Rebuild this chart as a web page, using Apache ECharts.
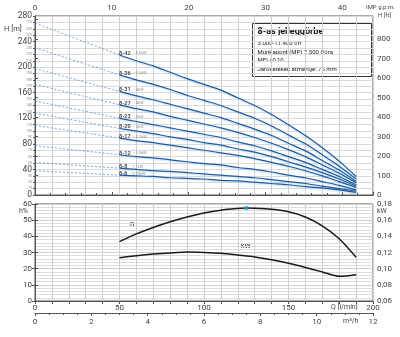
<!DOCTYPE html>
<html><head><meta charset="utf-8">
<script src="https://cdn.jsdelivr.net/npm/echarts@6/dist/echarts.min.js"></script>
<style>html,body{margin:0;padding:0;background:#fff}#c{width:400px;height:337px}</style>
</head><body><div id="c"></div>
<script>
// ---- data ----
const pumpNames = ['8-42','8-36','8-31','8-27','8-23','8-20','8-17','8-12','8-8','8-6'];
const pumpPower = ['5,5kW','5,5kW','4kW','4kW','3kW','3kW','2,2kW','1,5kW','1,1kW','0,75kW'];
const headAtZero = [269,230,198,173,147,128,109,77,51,38];
const qSolid = [50,60,70,80,90,100,110,120,130,140,150,160,170,180,190];
const head_8_42 = [219,210,202,192,182,173,164,152,140,126,110,93,74,53,29];
const head_8_36 = [188,180,173,165,156,148,140,130,120,108,94,80,63,45,25];
const head_8_31 = [162,155,149,142,135,128,121,112,103,93,81,69,54,39,21];
const head_8_27 = [141,135,130,123,117,111,105,98,90,81,71,60,47,34,19];
const head_8_23 = [120,115,110,105,100,95,90,83,77,69,60,51,40,29,16];
const head_8_20 = [104,100,96,91,87,82,78,72,67,60,52,44,35,25,14];
const head_8_17 = [89,85,82,78,74,70,66,62,57,51,45,38,30,21,12];
const head_8_12 = [63,60,58,55,52,49,47,43,40,36,31,27,21,15,8];
const head_8_8  = [42,40,38,37,35,33,31,29,27,24,21,18,14,10,6];
const head_8_6  = [31,30,29,27,26,25,23,22,20,18,16,13,11,8,4];
const heads = [head_8_42,head_8_36,head_8_31,head_8_27,head_8_23,head_8_20,head_8_17,head_8_12,head_8_8,head_8_6];

const qEff = [50,60,70,80,90,100,110,120,125,130,140,150,160,170,180,190];
const effPct = [36.7,41.5,45.5,49,52,54.5,56.2,57.2,57.5,57.4,56.7,55.2,52,46.5,38.5,27];
const qPow = [50,60,70,80,90,100,110,120,130,140,150,160,170,180,190];
const powKW = [0.1136,0.116,0.118,0.1195,0.1205,0.120,0.119,0.1168,0.1145,0.111,0.1066,0.1015,0.096,0.0905,0.0925];
const dutyPoint = [125,57.5];

const infoTitle = '8-as jelleggörbe';
const infoLines = ['3.000-11.400 l/h','Munkapont (MP) 7.500 l/óra','MEI ≥0,10','Járókerekek átmérője: 76 mm'];

// ---- chart ----
const FONT = 'Roboto, "DejaVu Sans", sans-serif';
const AX = '#444';
const GRIDC = '#cfcfcf';
const chart = echarts.init(document.getElementById('c'), null, {renderer:'canvas'});

const series = [];
heads.forEach((h,i)=>{
  series.push({type:'line', xAxisIndex:0, yAxisIndex:0, symbol:'none', silent:true,
    data:[[0,headAtZero[i]],[qSolid[0],h[0]]],
    lineStyle:{color:'#5b8fcc', width:0.8, type:[2,2]}});
  series.push({type:'line', xAxisIndex:0, yAxisIndex:0, symbol:'none', smooth:0.3, silent:true,
    data:qSolid.map((q,j)=>[q,h[j]]),
    lineStyle:{color:'#1f5a9e', width:1.2, shadowColor:'rgba(150,200,240,0.55)', shadowBlur:1.5, shadowOffsetY:1.2}});
  series.push({type:'scatter', xAxisIndex:0, yAxisIndex:0, symbolSize:1, silent:true,
    itemStyle:{color:'rgba(0,0,0,0)'},
    data:[[qSolid[0],h[0]]],
    label:{show:true, position:[0,-7], formatter:'{a|'+pumpNames[i]+'} {b|- '+pumpPower[i]+'}',
      rich:{a:{fontSize:5.5,fontWeight:'bold',color:'#222',fontFamily:FONT},
            b:{fontSize:4,color:'#777',fontFamily:FONT}}}});
});
series.push({type:'line', xAxisIndex:2, yAxisIndex:2, symbol:'none', smooth:0.3, silent:true,
  data:qEff.map((q,j)=>[q,effPct[j]]), lineStyle:{color:'#1a1a1a', width:1.5}});
series.push({type:'line', xAxisIndex:2, yAxisIndex:3, symbol:'none', smooth:0.3, silent:true,
  data:qPow.map((q,j)=>[q,powKW[j]]), lineStyle:{color:'#1a1a1a', width:1.5}});
series.push({type:'scatter', xAxisIndex:2, yAxisIndex:2, symbol:'rect', symbolSize:4, silent:true,
  data:[dutyPoint], itemStyle:{color:'#2aa7df'}, z:5});

const lbl = (o)=>Object.assign({color:AX, fontSize:8, fontFamily:FONT}, o||{});
const line = {show:true, lineStyle:{color:'#555', width:1}};

const option = {
  animation:false,
  textStyle:{fontFamily:FONT},
  grid:[
    {left:35, top:16, width:338, height:179, show:true, borderColor:'#555', borderWidth:1, backgroundColor:'#fff'},
    {left:35, top:204, width:338, height:97, show:true, borderColor:'#555', borderWidth:1, backgroundColor:'#fff'}
  ],
  xAxis:[
    {gridIndex:0, type:'value', min:0, max:200, interval:10, position:'bottom',
      axisLine:line, axisTick:{show:false}, axisLabel:{show:false},
      splitLine:{show:true, lineStyle:{color:GRIDC, width:1}}},
    {gridIndex:0, type:'value', min:0, max:200/4.546, interval:10, position:'top',
      axisLine:line, axisTick:{show:true, length:3, lineStyle:{color:'#555'}},
      minorTick:{show:true, splitNumber:5, length:2, lineStyle:{color:'#555'}},
      axisLabel:lbl({margin:4, showMaxLabel:false, formatter:v=>(Math.abs(v%10)<1e-6?String(Math.round(v)):'')}),
      splitLine:{show:false}},
    {gridIndex:1, type:'value', min:0, max:200, interval:10, position:'bottom',
      axisLine:line, axisTick:{show:true, length:3, lineStyle:{color:'#555'}},
      axisLabel:lbl({margin:3, formatter:v=>(v%50===0?String(v):'')}),
      splitLine:{show:true, lineStyle:{color:GRIDC, width:1}}},
    {gridIndex:1, type:'value', min:0, max:12, interval:2, position:'bottom', offset:12,
      axisLine:line, axisTick:{show:true, length:3, lineStyle:{color:'#555'}},
      minorTick:{show:true, splitNumber:4, length:2, lineStyle:{color:'#555'}},
      axisLabel:lbl({margin:5}), splitLine:{show:false}}
  ],
  yAxis:[
    {gridIndex:0, type:'value', min:0, max:280, interval:10, position:'left',
      axisLine:line, axisTick:{show:true, length:2, lineStyle:{color:'#555'}},
      axisLabel:{margin:3, fontFamily:FONT, formatter:v=>(v%40===0?'{big|'+v+'}':'{small|'+v+'}'),
        rich:{big:{fontSize:8.5,color:AX,fontFamily:FONT}, small:{fontSize:3.5,color:'#888',fontFamily:FONT}}},
      splitLine:{show:true, lineStyle:{color:'#dadada', width:1}}},
    {gridIndex:0, type:'value', min:0, max:280*3.28084, interval:100, position:'right',
      axisLine:line, axisTick:{show:true, length:3, lineStyle:{color:'#555'}},
      axisLabel:lbl({margin:4, showMaxLabel:false, formatter:v=>((v%100===0 && v<900)?String(v):'')}),
      splitLine:{show:false}},
    {gridIndex:1, type:'value', min:0, max:60, interval:10, position:'left',
      axisLine:line, axisTick:{show:true, length:3, lineStyle:{color:'#555'}},
      axisLabel:lbl({margin:3}),
      splitLine:{show:true, lineStyle:{color:'#cfcfcf', width:1}},
      minorSplitLine:{show:true, lineStyle:{color:'#dcdcdc', width:1}},
      minorTick:{show:false, splitNumber:5}},
    {gridIndex:1, type:'value', min:0.06, max:0.18, interval:0.02, position:'right',
      axisLine:line, axisTick:{show:true, length:3, lineStyle:{color:'#555'}},
      axisLabel:lbl({margin:4, formatter:v=>v.toFixed(2).replace('.',',')}),
      splitLine:{show:false}}
  ],
  graphic:[
    {type:'text', left:4, top:25, style:{text:'H [m]', fontSize:7.5, fill:AX, fontFamily:FONT}},
    {type:'text', left:366, top:4, style:{text:'IMP g.p.m.', fontSize:6, fill:AX, fontFamily:FONT}},
    {type:'text', left:378, top:12, style:{text:'H [ft]', fontSize:6, fill:AX, fontFamily:FONT}},
    {type:'text', left:19, top:208, style:{text:'h%', fontSize:7, fill:AX, fontFamily:FONT}},
    {type:'text', left:377, top:208, style:{text:'kW', fontSize:7, fill:AX, fontFamily:FONT}},
    {type:'text', left:130, top:220, style:{text:'η', fontSize:8, fill:'#222', fontFamily:FONT}},
    {type:'rect', left:238, top:241, shape:{width:22, height:11}, style:{fill:'#fff'}},
    {type:'text', left:241, top:243, style:{text:'kW', fontSize:7, fill:'#222', fontFamily:FONT}},
    {type:'text', left:331, top:304, style:{text:'Q [l/min]', fontSize:7, fill:AX, fontFamily:FONT, backgroundColor:'#fff'}},
    {type:'text', left:343, top:318, style:{text:'m³/h', fontSize:7, fill:AX, fontFamily:FONT, backgroundColor:'#fff'}},
    {type:'group', left:252, top:23, children:[
      {type:'rect', shape:{x:0,y:0,width:119,height:53}, style:{fill:'#fff', stroke:'#333', lineWidth:1}},
      {type:'text', x:5, y:4, style:{text:infoTitle, fontSize:9, fontWeight:'bold', fill:'#111', fontFamily:FONT}},
      {type:'text', x:5, y:17, style:{text:infoLines[0], fontSize:6, fill:'#222', fontFamily:FONT}},
      {type:'text', x:5, y:25.5, style:{text:infoLines[1], fontSize:6, fill:'#222', fontFamily:FONT}},
      {type:'text', x:5, y:34, style:{text:infoLines[2], fontSize:6, fill:'#222', fontFamily:FONT}},
      {type:'text', x:5, y:42.5, style:{text:infoLines[3], fontSize:6, fill:'#222', fontFamily:FONT}}
    ]}
  ],
  series:series
};
chart.setOption(option);
</script></body></html>
